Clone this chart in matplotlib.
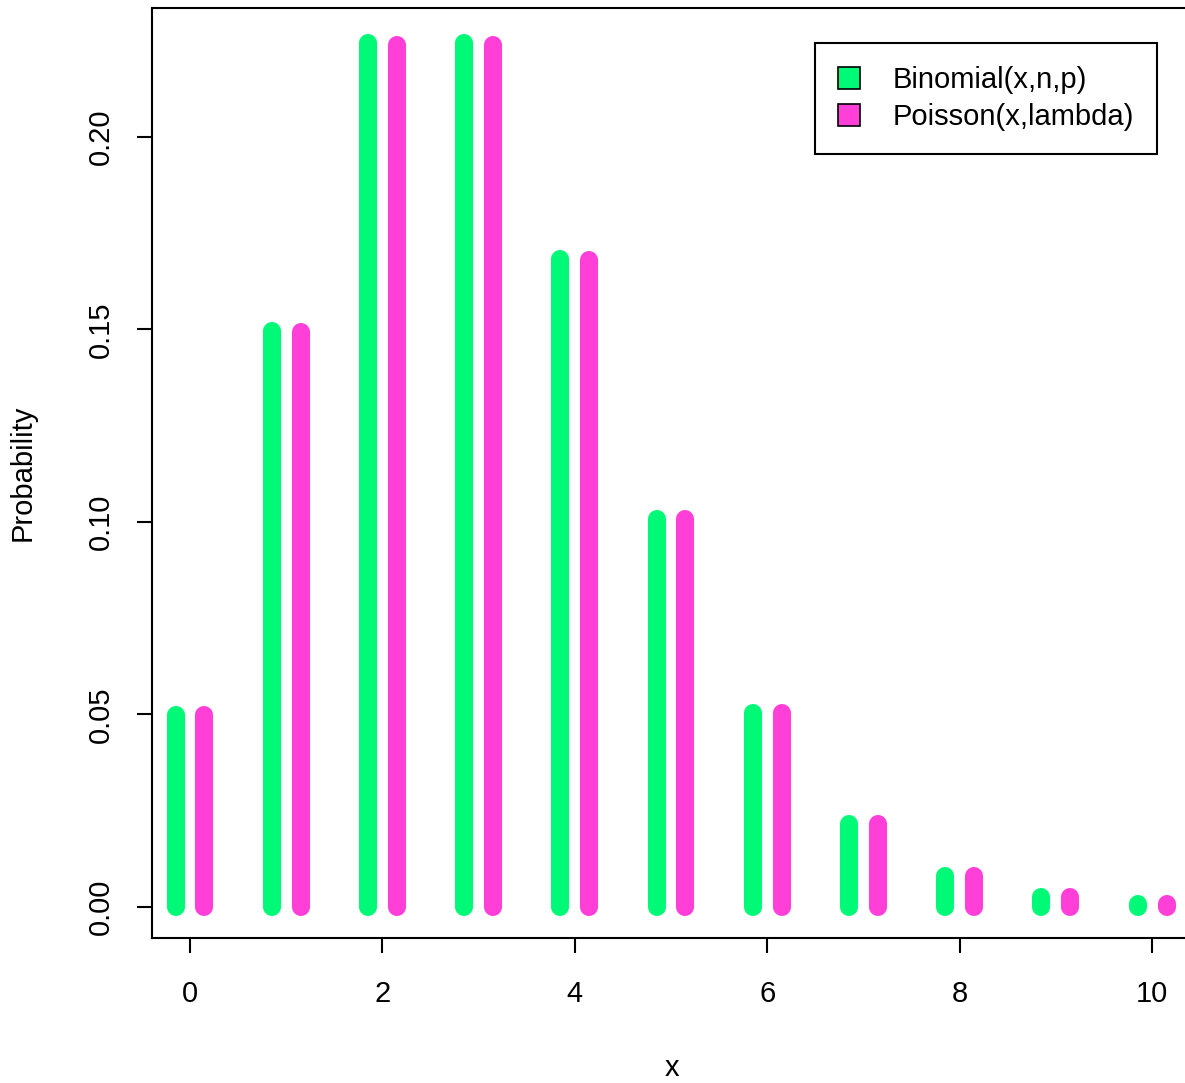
import numpy as np
import matplotlib.pyplot as plt
from matplotlib.patches import Patch

plt.rcParams['font.family'] = ['Liberation Sans', 'DejaVu Sans']

# Values
x = [0, 1, 2, 3, 4, 5, 6, 7, 8, 9, 10]
binom = [0.0498, 0.1496, 0.2244, 0.2244, 0.1683, 0.1008, 0.0503, 0.0215, 0.0080, 0.0027, 0.0008]
pois = [0.0498, 0.1494, 0.2240, 0.2240, 0.1680, 0.1008, 0.0504, 0.0216, 0.0081, 0.0027, 0.0008]

green = '#00FA78'
pink = '#FF3FD8'

fig = plt.figure(figsize=(11.85, 10.83), dpi=100)
ax = fig.add_axes([152 / 1185, (1083 - 938) / 1083, 1040 / 1185, 930 / 1083])

xs = np.array(x)
ax.vlines(xs - 0.15, 0, binom, colors=green, linewidth=13, capstyle='round')
ax.vlines(xs + 0.15, 0, pois, colors=pink, linewidth=13, capstyle='round')

ax.set_xlim(-0.395, 10.415)
ax.set_ylim(-0.00805, 0.2335)
ax.set_xticks([0, 2, 4, 6, 8, 10])
ax.set_yticks([0.00, 0.05, 0.10, 0.15, 0.20])
ax.set_yticklabels(['0.00', '0.05', '0.10', '0.15', '0.20'], rotation=90, va='center')
ax.tick_params(direction='out', length=11, width=1.5, labelsize=21, pad=16)
ax.tick_params(axis='x', pad=19)
for s in ax.spines.values():
    s.set_linewidth(1.5)

ax.set_xlabel('x', fontsize=21, labelpad=33)
ax.set_ylabel('Probability', fontsize=21, labelpad=36)

handles = [Patch(facecolor=green, edgecolor='black', linewidth=1.2),
           Patch(facecolor=pink, edgecolor='black', linewidth=1.2)]
leg = ax.legend(handles, ['Binomial(x,n,p)', 'Poisson(x,lambda)'],
                loc='upper left', bbox_to_anchor=((815 - 152) / 1040, (938 - 43) / 930),
                fontsize=21, fancybox=False, framealpha=1, edgecolor='black',
                handlelength=0.75, handleheight=0.75, handletextpad=1.1,
                borderpad=0.8, labelspacing=0.3, borderaxespad=0)
leg.get_frame().set_linewidth(1.5)

fig.savefig('out.png', dpi=100)
